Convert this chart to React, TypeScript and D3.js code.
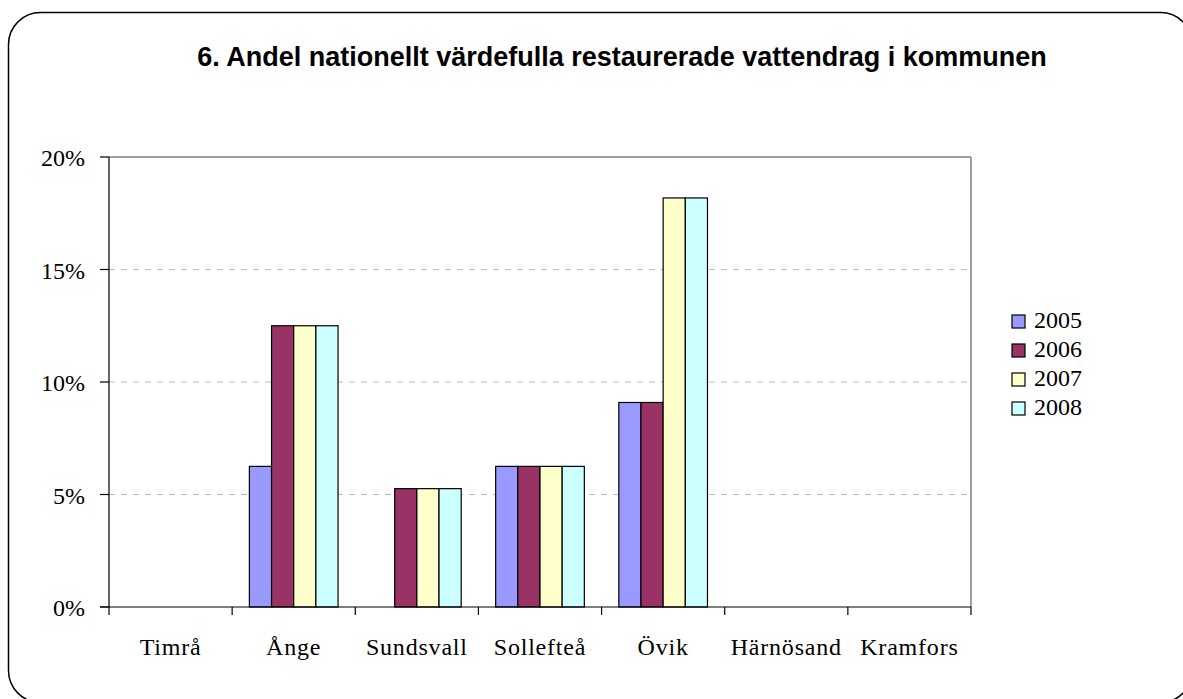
import React from 'react';
import * as d3 from 'd3';

const categories = ['Timrå', 'Ånge', 'Sundsvall', 'Sollefteå', 'Övik', 'Härnösand', 'Kramfors'];
const years = ['2005', '2006', '2007', '2008'];
const v2005 = [0, 6.25, 0, 6.25, 9.09, 0, 0];
const v2006 = [0, 12.5, 5.26, 6.25, 9.09, 0, 0];
const v2007 = [0, 12.5, 5.26, 6.25, 18.18, 0, 0];
const v2008 = [0, 12.5, 5.26, 6.25, 18.18, 0, 0];
const yTicks = [0, 5, 10, 15, 20];

const series = [v2005, v2006, v2007, v2008];
const COLORS = ['#9999FF', '#993366', '#FFFFCC', '#CCFFFF'];

const W = 1183;
const H = 699;
const plot = { left: 109, right: 971, top: 157, bottom: 607 };
const SERIF = 'Liberation Serif, Times New Roman, serif';

const App: React.FC = () => {
  const x = d3.scaleBand<string>()
    .domain(categories)
    .range([plot.left, plot.right])
    .paddingInner(0.28)
    .paddingOuter(0.14);

  const xSub = d3.scaleBand<string>()
    .domain(years)
    .range([0, x.bandwidth()]);

  const y = d3.scaleLinear().domain([0, 20]).range([plot.bottom, plot.top]);

  const step = (plot.right - plot.left) / categories.length;
  const tickXs = d3.range(categories.length + 1).map(i => plot.left + i * step);

  return (
    <svg width={W} height={H} style={{ position: 'absolute', left: 0, top: 0, background: '#fff' }}>
      <rect x={8.5} y={12.5} width={1184} height={690} rx={32} fill="#fff" stroke="#000" strokeWidth={1.5} />

      <text x={622} y={66} textAnchor="middle" fontFamily="Liberation Sans, Arial, sans-serif"
        fontWeight="bold" fontSize={27} fill="#000">
        6. Andel nationellt värdefulla restaurerade vattendrag i kommunen
      </text>

      {/* gridlines */}
      {yTicks.filter(t => t > 0 && t < 20).map(t => (
        <line key={t} x1={plot.left} x2={plot.right} y1={y(t)} y2={y(t)}
          stroke="#BDBDBD" strokeWidth={1} strokeDasharray="6,6" />
      ))}
      <line x1={plot.left} x2={plot.right} y1={y(20)} y2={y(20)} stroke="#808080" strokeWidth={1.5} />
      <line x1={plot.right} x2={plot.right} y1={plot.top} y2={plot.bottom} stroke="#808080" strokeWidth={1.5} />

      {/* bars */}
      {categories.map((c, ci) => (
        <g key={c} transform={`translate(${x(c)},0)`}>
          {series.map((s, si) => s[ci] > 0 ? (
            <rect key={si} x={xSub(years[si])} y={y(s[ci])} width={xSub.bandwidth()}
              height={plot.bottom - y(s[ci])} fill={COLORS[si]} stroke="#000" strokeWidth={1.2} />
          ) : null)}
        </g>
      ))}

      {/* axes */}
      <line x1={plot.left} x2={plot.left} y1={plot.top} y2={plot.bottom} stroke="#000" strokeWidth={1.2} />
      <line x1={plot.left - 9} x2={plot.right} y1={plot.bottom} y2={plot.bottom} stroke="#000" strokeWidth={1.2} />
      {yTicks.map(t => (
        <g key={t}>
          <line x1={plot.left - 9} x2={plot.left} y1={y(t)} y2={y(t)} stroke="#000" strokeWidth={1.2} />
          <text x={85} y={y(t) + 9} textAnchor="end" fontFamily={SERIF}
            fontSize={24} fill="#000">{t}%</text>
        </g>
      ))}
      {tickXs.map((tx, i) => (
        <line key={i} x1={tx} x2={tx} y1={plot.bottom} y2={plot.bottom + 8} stroke="#000" strokeWidth={1.2} />
      ))}
      {categories.map(c => (
        <text key={c} x={(x(c) ?? 0) + x.bandwidth() / 2} y={655} textAnchor="middle"
          fontFamily={SERIF} fontSize={24} letterSpacing={0.8} fill="#000">{c}</text>
      ))}

      {/* legend */}
      {years.map((yr, i) => (
        <g key={yr} transform={`translate(1012,${315 + i * 29})`}>
          <rect x={0} y={0} width={13} height={13} fill={COLORS[i]} stroke="#000" strokeWidth={1.2} />
          <text x={22} y={13} fontFamily={SERIF} fontSize={24} fill="#000">{yr}</text>
        </g>
      ))}
    </svg>
  );
};

export default App;
